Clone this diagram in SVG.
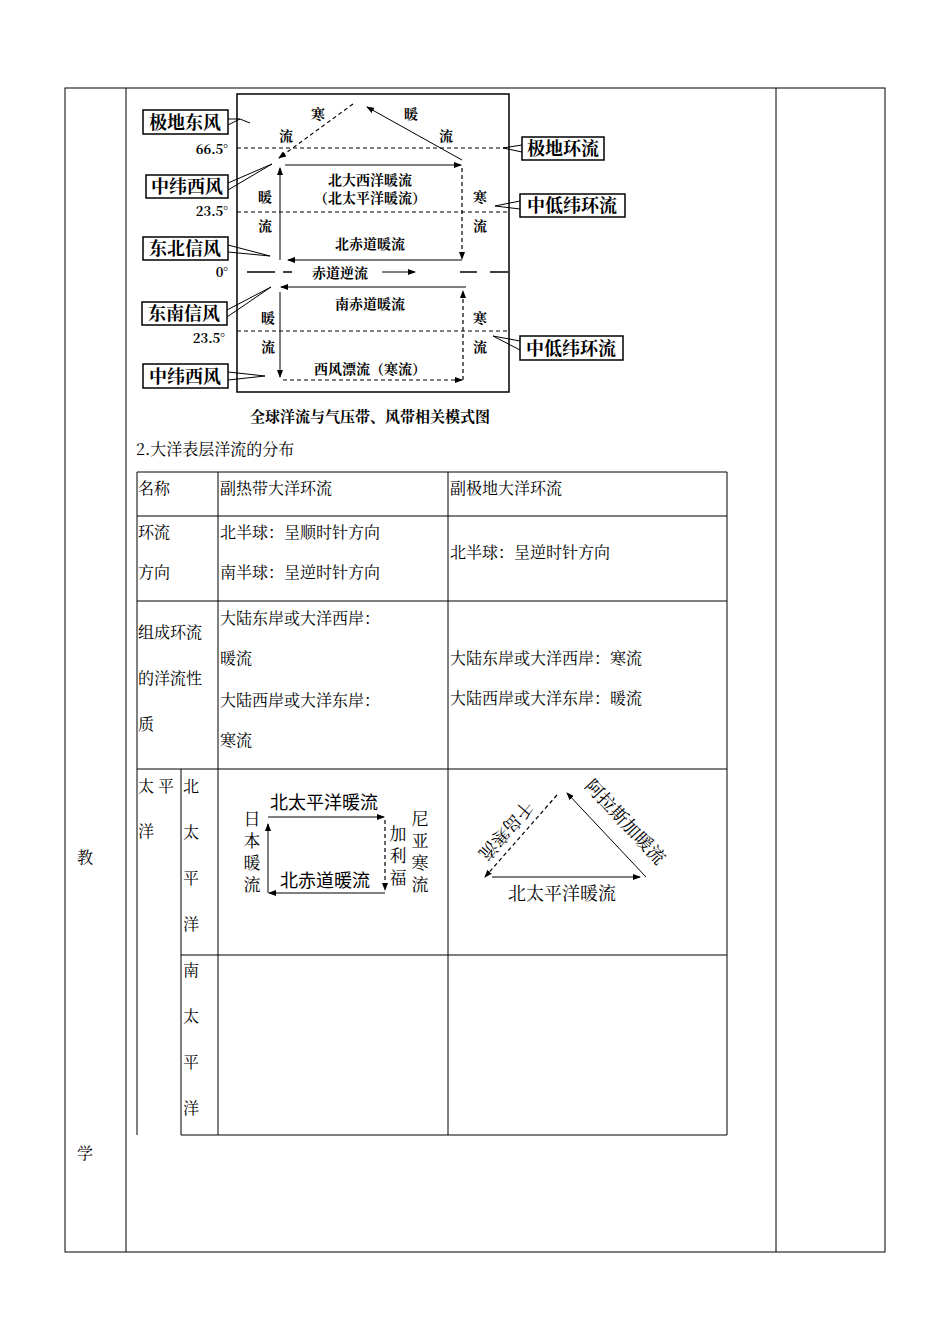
<svg xmlns="http://www.w3.org/2000/svg" width="950" height="1342" viewBox="0 0 950 1342">
<defs>
<marker id="a" markerWidth="8" markerHeight="6" refX="7" refY="3" orient="auto" markerUnits="userSpaceOnUse"><path d="M0,0 L8,3 L0,6 z" fill="#000"/></marker>
<style>
text{font-family:"Noto Serif CJK SC","Noto Sans CJK SC",serif;fill:#000}
.t{font-size:16px}
.b{font-size:15px;font-weight:bold}
.bl{font-size:18px;font-weight:bold}
.s{font-size:14px;font-weight:bold}
.n{font-size:13px;font-family:"Liberation Serif",serif}
.l{stroke:#000;stroke-width:1;fill:none}
.d{stroke:#000;stroke-width:1.2;fill:none;stroke-dasharray:4,3}
.k{stroke:#000;stroke-width:1.5;fill:none}
.bx{fill:#fff;stroke:#000;stroke-width:1.5}
.v{font-family:"Noto Sans CJK SC",sans-serif;font-size:17px}
.v2{font-family:"Noto Sans CJK SC",sans-serif;font-size:18px}
</style>
</defs>
<g id="frame">
<rect x="65" y="88" width="820" height="1164" class="l"/>
<line x1="126" y1="88" x2="126" y2="1252" class="l"/>
<line x1="776" y1="88" x2="776" y2="1252" class="l"/>
<text x="85" y="863" class="t" text-anchor="middle">教</text>
<text x="85" y="1159" class="t" text-anchor="middle">学</text>
</g>
<g id="model">
<rect x="237" y="94" width="272" height="298" class="k"/>
<line x1="237" y1="148" x2="509" y2="148" class="d"/>
<line x1="237" y1="212" x2="509" y2="212" class="d"/>
<line x1="237" y1="331" x2="509" y2="331" class="d"/>
<g class="k"><line x1="247" y1="272" x2="275" y2="272"/><line x1="283" y1="272" x2="292" y2="272"/><line x1="460" y1="272" x2="477" y2="272"/><line x1="490" y1="272" x2="508" y2="272"/></g>
<line x1="382" y1="272" x2="415" y2="272" class="l" marker-end="url(#a)"/>
<line x1="353" y1="104" x2="279" y2="158" class="d" marker-end="url(#a)"/>
<line x1="462" y1="160" x2="367" y2="107" class="l" stroke-width="1.3" marker-end="url(#a)"/>
<line x1="280" y1="260" x2="280" y2="168" class="l" marker-end="url(#a)"/>
<line x1="285" y1="165" x2="461" y2="165" class="l" marker-end="url(#a)"/>
<line x1="462" y1="168" x2="462" y2="259" class="d" marker-end="url(#a)"/>
<line x1="462" y1="260" x2="288" y2="260" class="l" marker-end="url(#a)"/>
<line x1="466" y1="287" x2="281" y2="287" class="l" marker-end="url(#a)"/>
<line x1="280" y1="292" x2="280" y2="377" class="l" marker-end="url(#a)"/>
<line x1="283" y1="380" x2="462" y2="380" class="d" marker-end="url(#a)"/>
<line x1="463" y1="380" x2="463" y2="291" class="d" marker-end="url(#a)"/>
<g class="s" text-anchor="middle">
<text x="318" y="119">寒</text><text x="286" y="141">流</text>
<text x="411" y="119">暖</text><text x="446" y="141">流</text>
<text x="370" y="185">北大西洋暖流</text><text x="370" y="203">（北太平洋暖流）</text>
<text x="265" y="202">暖</text><text x="265" y="231">流</text>
<text x="480" y="202">寒</text><text x="480" y="231">流</text>
<text x="370" y="249">北赤道暖流</text>
<text x="340" y="278">赤道逆流</text>
<text x="370" y="309">南赤道暖流</text>
<text x="268" y="323">暖</text><text x="268" y="352">流</text>
<text x="480" y="323">寒</text><text x="480" y="352">流</text>
<text x="370" y="374">西风漂流（寒流）</text>
</g>
<g class="n" text-anchor="end" font-weight="bold">
<text x="228" y="154">66.5°</text><text x="228" y="216">23.5°</text><text x="228" y="277">0°</text><text x="225" y="343">23.5°</text>
</g>
</g>
<g id="winds">
<g class="l" stroke-width="1.2">
<path d="M228,119 L240,119 L250,123 M228,125 L240,119"/>
<path d="M228,183 L272,164 M228,190 L272,164"/>
<path d="M228,245 L270,256 M228,252 L270,256"/>
<path d="M227,310 L271,287 M227,317 L271,287"/>
<path d="M228,372 L265,376 M228,380 L265,376"/>
<path d="M522,145 L503,148 M522,152 L503,148"/>
<path d="M520,201 L495,206 M520,209 L495,206"/>
<path d="M520,341 L493,336 M520,350 L493,336"/>
</g>
<g class="bl" text-anchor="middle">
<rect x="143" y="110" width="85" height="24" class="bx"/><text x="185" y="129">极地东风</text>
<rect x="146" y="175" width="82" height="23" class="bx"/><text x="187" y="193">中纬西风</text>
<rect x="143" y="237" width="85" height="23" class="bx"/><text x="185" y="255">东北信风</text>
<rect x="142" y="302" width="85" height="23" class="bx"/><text x="184" y="320">东南信风</text>
<rect x="143" y="364" width="85" height="24" class="bx"/><text x="185" y="383">中纬西风</text>
<rect x="522" y="137" width="82" height="23" class="bx"/><text x="563" y="155">极地环流</text>
<rect x="520" y="194" width="105" height="23" class="bx"/><text x="572" y="212">中低纬环流</text>
<rect x="520" y="336" width="103" height="24" class="bx"/><text x="571" y="355">中低纬环流</text>
</g>
<text x="370" y="422" class="b" text-anchor="middle">全球洋流与气压带、风带相关模式图</text>
<text x="136" y="455" class="t">2.大洋表层洋流的分布</text>
</g>
<g id="table">
<g class="l">
<line x1="137" y1="472" x2="727" y2="472"/><line x1="137" y1="516" x2="727" y2="516"/>
<line x1="137" y1="601" x2="727" y2="601"/><line x1="137" y1="769" x2="727" y2="769"/>
<line x1="181" y1="955" x2="727" y2="955"/><line x1="181" y1="1135" x2="727" y2="1135"/>
<line x1="137" y1="472" x2="137" y2="1135"/><line x1="181" y1="769" x2="181" y2="1135"/>
<line x1="218" y1="472" x2="218" y2="1135"/><line x1="448" y1="472" x2="448" y2="1135"/>
<line x1="727" y1="472" x2="727" y2="1135"/>
</g>
<g class="t">
<text x="138" y="494">名称</text><text x="220" y="494">副热带大洋环流</text><text x="450" y="494">副极地大洋环流</text>
<text x="138" y="538">环流</text><text x="138" y="578">方向</text>
<text x="220" y="538">北半球：呈顺时针方向</text><text x="220" y="578">南半球：呈逆时针方向</text>
<text x="450" y="558">北半球：呈逆时针方向</text>
<text x="138" y="638">组成环流</text><text x="138" y="684">的洋流性</text><text x="138" y="730">质</text>
<text x="220" y="624">大陆东岸或大洋西岸：</text><text x="220" y="664">暖流</text>
<text x="220" y="706">大陆西岸或大洋东岸：</text><text x="220" y="746">寒流</text>
<text x="450" y="664">大陆东岸或大洋西岸：寒流</text><text x="450" y="704">大陆西岸或大洋东岸：暖流</text>
<text x="138" y="792">太 平</text><text x="138" y="837">洋</text>
<text x="183" y="792">北</text><text x="183" y="838">太</text><text x="183" y="884">平</text><text x="183" y="930">洋</text>
<text x="183" y="976">南</text><text x="183" y="1022">太</text><text x="183" y="1068">平</text><text x="183" y="1114">洋</text>
</g>
</g>
<g id="np-sub">
<line x1="268" y1="817" x2="384" y2="817" class="l" stroke-width="1.5" marker-end="url(#a)"/>
<line x1="385" y1="820" x2="385" y2="890" class="d" marker-end="url(#a)"/>
<line x1="385" y1="893" x2="269" y2="893" class="l" stroke-width="1.5" marker-end="url(#a)"/>
<line x1="268" y1="893" x2="268" y2="824" class="l" stroke-width="1.5" marker-end="url(#a)"/>
<text x="324" y="809" class="v2" text-anchor="middle">北太平洋暖流</text>
<text x="325" y="887" class="v2" text-anchor="middle">北赤道暖流</text>
<g class="v" text-anchor="middle">
<text x="252" y="825">日</text><text x="252" y="847">本</text><text x="252" y="869">暖</text><text x="252" y="891">流</text>
<text x="398" y="840">加</text><text x="398" y="862">利</text><text x="398" y="884">福</text>
<text x="420" y="825">尼</text><text x="420" y="847">亚</text><text x="420" y="869">寒</text><text x="420" y="891">流</text>
</g>
</g>
<g id="np-subpolar">
<line x1="557" y1="795" x2="485" y2="877" class="d" marker-end="url(#a)"/>
<line x1="646" y1="877" x2="567" y2="793" class="l" stroke-width="1.5" marker-end="url(#a)"/>
<line x1="492" y1="877" x2="640" y2="877" class="l" stroke-width="1.5" marker-end="url(#a)"/>
<g class="v2">
<text x="562" y="900" text-anchor="middle">北太平洋暖流</text>
<text transform="translate(506,830) rotate(131)" text-anchor="middle" dy="6">千岛寒流</text>
<text transform="translate(625,822) rotate(47)" text-anchor="middle" dy="6">阿拉斯加暖流</text>
</g>
</g>
</svg>
